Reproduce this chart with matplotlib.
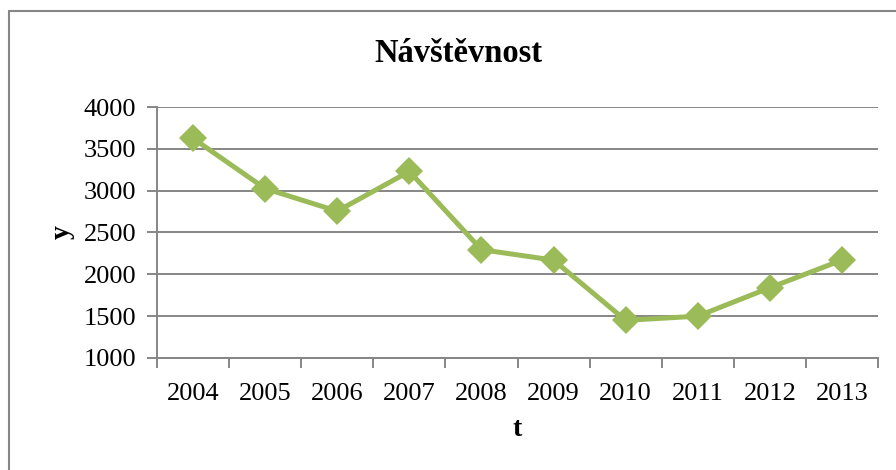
import numpy as np
import matplotlib.pyplot as plt
from matplotlib.patches import Rectangle

years = ['2004', '2005', '2006', '2007', '2008', '2009', '2010', '2011', '2012', '2013']
visits = [3625, 3025, 2755, 3230, 2295, 2170, 1450, 1500, 1840, 2170]
y_ticks = [1000, 1500, 2000, 2500, 3000, 3500, 4000]

plt.rcParams['font.family'] = ['Liberation Serif', 'DejaVu Serif']

grey = '#868686'
green = '#9BBB59'

fig = plt.figure(figsize=(8.96, 4.7), dpi=100)
ax = fig.add_axes([157 / 896, 1 - 358 / 470, (878 - 157) / 896, (358 - 107) / 470])

# outer chart frame, runs off the right and bottom edge
fig.patches.append(Rectangle((9 / 896, -0.1), 1.2, 1 - 11 / 470 + 0.1,
                             transform=fig.transFigure, fill=False,
                             edgecolor=grey, linewidth=1.5))

x = np.arange(len(years))
ax.plot(x, visits, color=green, linewidth=3.6, marker='D', markersize=14,
        markeredgewidth=0, zorder=3, clip_on=False)

ax.set_xlim(-0.5, len(years) - 0.5)
ax.set_ylim(1000, 4000)
ax.set_yticks(y_ticks)
ax.set_xticks(x)
ax.set_xticklabels(years)
ax.set_xticks(np.arange(-0.5, len(years)), minor=True)

ax.grid(axis='y', color=grey, linewidth=1.4)
ax.set_axisbelow(True)
for s in ['top', 'right']:
    ax.spines[s].set_visible(False)
for s in ['left', 'bottom']:
    ax.spines[s].set_color(grey)
    ax.spines[s].set_linewidth(1.4)

ax.tick_params(axis='y', length=7, width=1.4, color=grey, labelsize=19, pad=8)
ax.tick_params(axis='x', which='major', length=0, labelsize=19, pad=18)
ax.tick_params(axis='x', which='minor', length=7, width=1.4, color=grey)

fig.text(458 / 896, 1 - 53 / 470, 'Návštěvnost', ha='center', va='center',
         fontsize=23.5, fontweight='bold')
fig.text(62 / 896, 1 - 232 / 470, 'y', ha='center', va='center', rotation=90,
         fontsize=20, fontweight='bold')
fig.text(517 / 896, 1 - 430 / 470, 't', ha='center', va='center',
         fontsize=20, fontweight='bold')

plt.savefig('out.png', dpi=100)
